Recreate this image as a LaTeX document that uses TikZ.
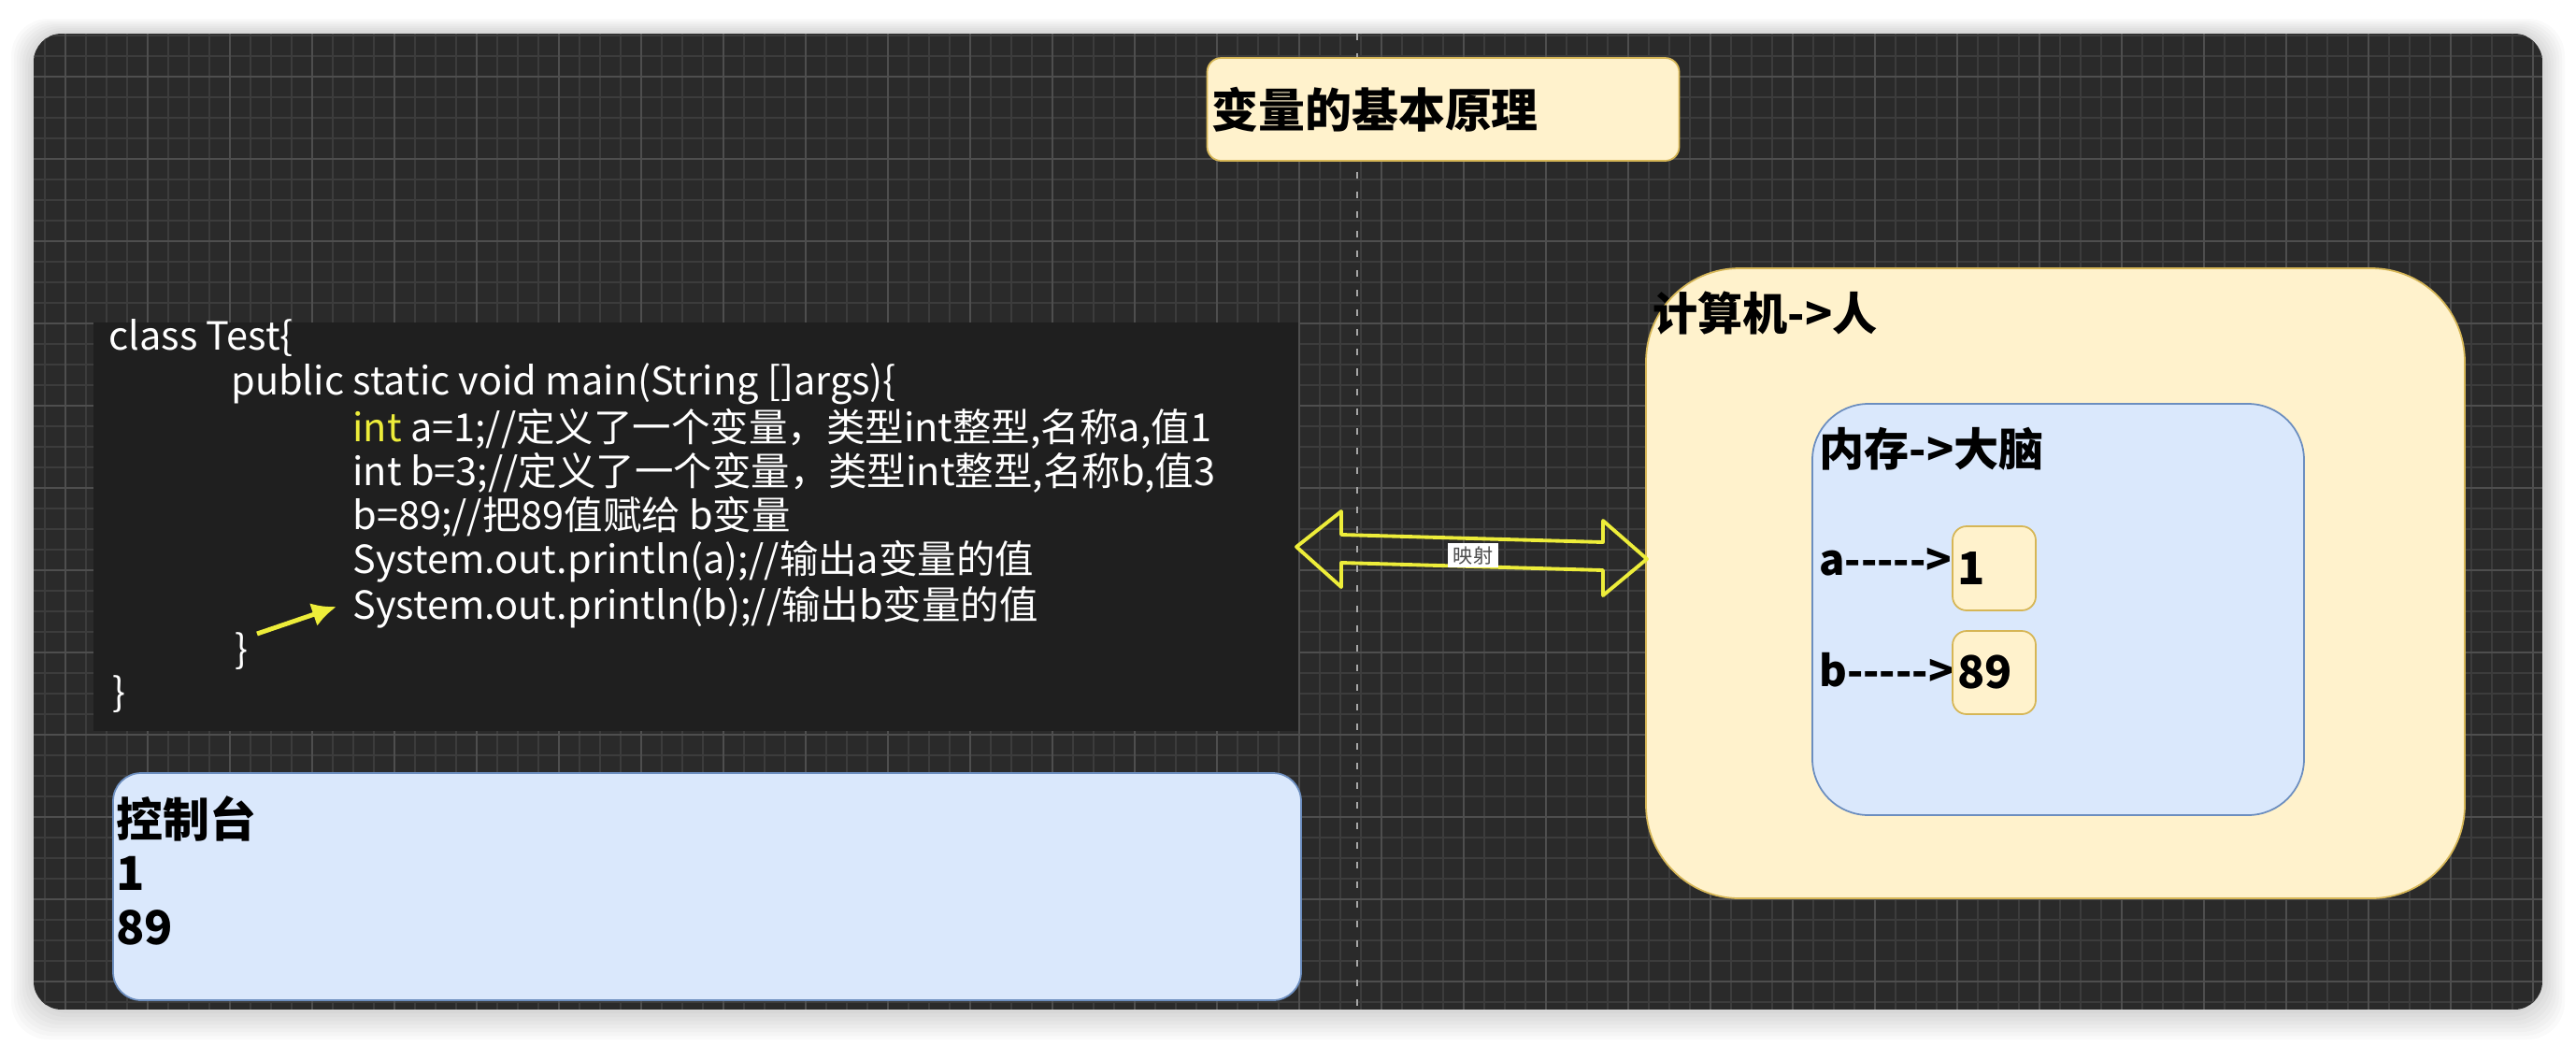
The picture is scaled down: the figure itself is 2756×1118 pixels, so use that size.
\documentclass[tikz,border=0pt]{standalone}
\usepackage{fontspec}
\setmainfont{Noto Sans CJK SC}
\newfontfamily\cjk{Noto Sans CJK SC}
\usepackage{tikz}
\usetikzlibrary{arrows.meta,positioning,calc}
\definecolor{boardbg}{HTML}{2A2A2A}
\definecolor{gridminor}{HTML}{3C3C3C}
\definecolor{gridmajor}{HTML}{4E4E4E}
\definecolor{chalk}{HTML}{1F1F1F}
\definecolor{noteyellow}{HTML}{FFF2CC}
\definecolor{noteedge}{HTML}{D6B656}
\definecolor{memblue}{HTML}{DAE8FC}
\definecolor{memedge}{HTML}{6C8EBF}
\definecolor{hiyellow}{HTML}{EDED3A}
\newcommand{\kw}[1]{\textcolor{hiyellow}{#1}}

\begin{document}
\begin{tikzpicture}[x=0.1mm,y=-0.1mm,>=Latex,thick]
        \tikzstyle{note} = [draw=noteedge, fill=noteyellow, line width=0.5pt, rounded corners=1.5mm]
        \tikzstyle{mem} = [draw=memedge, fill=memblue, line width=0.5pt]
        \tikzstyle{head} = [anchor=west, inner sep=0, font=\cjk\fontsize{13.7}{16}\selectfont\bfseries]
        \tikzstyle{var} = [anchor=west, inner sep=0, font=\cjk\fontsize{12.9}{15}\selectfont\bfseries]
        \tikzstyle{code} = [anchor=west, inner sep=0, text=white, font=\cjk\fontsize{11.8}{13}\selectfont]
        \tikzstyle{minor} = [gridminor, line width=0.5pt]
        \tikzstyle{major} = [gridmajor, line width=0.8pt]

        \useasboundingbox (0,0) rectangle (2756,1118);
        \fill[white] (0,0) rectangle (2756,1118);

        % Board with shadow and grid
        \foreach \s in {1,...,8}
            \fill[black, opacity=0.018, rounded corners=4mm] ({36-3*\s},{36-2*\s}) rectangle ({2720+3*\s},{1080+4*\s});
        \begin{scope}
            \clip[rounded corners=3mm] (36,36) rectangle (2720,1080);
            \fill[boardbg] (36,36) rectangle (2720,1080);
            \foreach \i in {0,...,122} \draw[minor] ({26+22*\i},36) -- ++(0,1044);
            \foreach \i in {0,...,47} \draw[minor] (36,{38+22*\i}) -- ++(2684,0);
            \foreach \i in {0,...,30} \draw[major] ({70+88*\i},36) -- ++(0,1044);
            \foreach \i in {0,...,11} \draw[major] (36,{82+88*\i}) -- ++(2684,0);
            \draw[gray!70, line width=0.6pt, dash pattern=on 2pt off 4pt] (1452,36) -- (1452,1080);
        \end{scope}

        % Nodes
        \node[note, minimum width=50.5mm, minimum height=11mm, text width=49.5mm, inner xsep=0.5mm, align=left,
              font=\cjk\fontsize{14.2}{17}\selectfont\bfseries] (title) at (1544,117) {变量的基本原理};

        \node[fill=chalk, minimum width=128.9mm, minimum height=43.7mm, inner sep=0] (board) at (744.5,563.5) {};
        \node[code] (l1) at (115,362) {class Test\{};
        \node[code] (l2) at (246,411) {public static void main(String []args)\{};
        \node[code] (l3) at (376,459) {\kw{int} a=1;//定义了一个变量，类型int整型,名称a,值1};
        \node[code] (l4) at (376,506) {int b=3;//定义了一个变量，类型int整型,名称b,值3};
        \node[code] (l5) at (376,553) {b=89;//把89值赋给 b变量};
        \node[code] (l6) at (376,601) {System.out.println(a);//输出a变量的值};
        \node[code] (l7) at (376,650) {System.out.println(b);//输出b变量的值};
        \node[code] (l8) at (250,697) {\}};
        \node[code] (l9) at (119,743) {\}};
        \coordinate (ptr) at (275,678);

        \node[mem, rounded corners=3mm, minimum width=127.1mm, minimum height=24.3mm] (console) at (756.5,948.5) {};
        \node[anchor=north west, inner sep=0, align=left, font=\cjk\fontsize{14.2}{16.4}\selectfont\bfseries]
              (out) at (123,850) {控制台\\1\\89};

        \node[note, rounded corners=10mm, minimum width=87.6mm, minimum height=67.4mm] (pc) at (2199,624) {};
        \node[head] (pct) at (1767,335) {计算机->人};
        \node[mem, rounded corners=6mm, minimum width=52.6mm, minimum height=44mm] (ram) at (2202,652) {};
        \node[head] (ramt) at (1945,480) {内存->大脑};
        \node[var] (va) at (1945,601) {a----->};
        \node[note, minimum width=8.9mm, minimum height=9mm, text width=7.9mm, inner xsep=0.5mm, align=left,
              font=\cjk\fontsize{13.7}{16}\selectfont\bfseries] (a) at (2133.5,608) {1};
        \node[var] (vb) at (1945,717) {b----->};
        \node[note, minimum width=8.9mm, minimum height=8.9mm, text width=7.9mm, inner xsep=0.3mm, align=left,
              font=\cjk\fontsize{13.7}{16}\selectfont\bfseries] (b) at (2133.5,719.5) {89};

        % Edges
        \draw[hiyellow, line width=1.1pt, line join=round]
            (1387,585) -- (1435,547) -- (1435,572) -- (1715,580) -- (1715,557) -- (1762,598)
            -- (1715,637) -- (1715,610) -- (1435,602) -- (1435,628) -- cycle;
        \node[fill=white, inner xsep=0.6mm, inner ysep=0.3mm, text=black!70, font=\cjk\fontsize{6}{7}\selectfont] (map) at (1576,594) {映射};
        \draw[->, hiyellow, line width=1.4pt, -{Latex[length=2.6mm,width=2.6mm]}] (ptr) -- ([xshift=-1.6mm,yshift=0.1mm]l7.west);
    \end{tikzpicture}
\end{document}
